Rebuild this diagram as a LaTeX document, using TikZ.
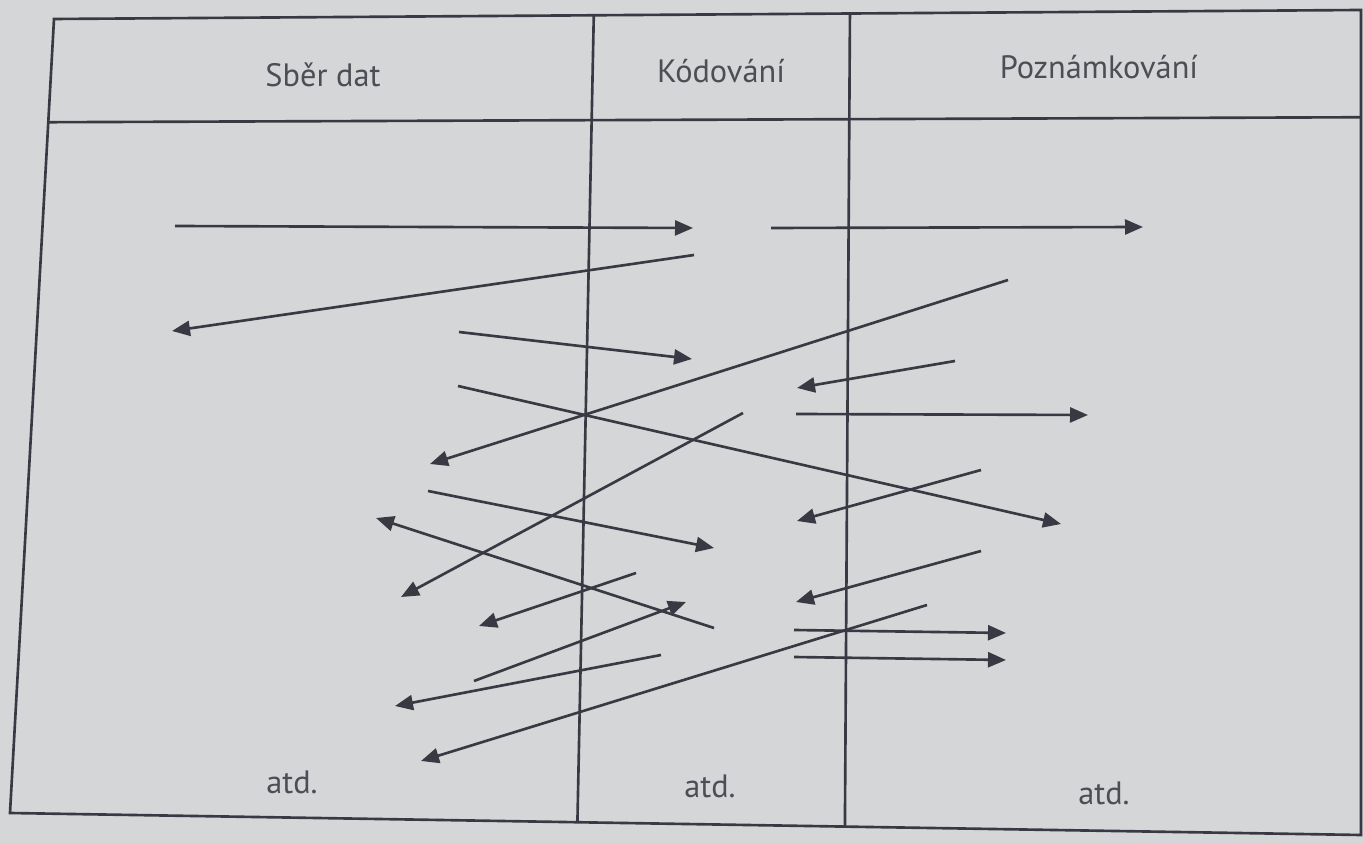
\documentclass[tikz,border=0pt]{standalone}
\usepackage{fontspec}
\setsansfont{PT Sans}
\usetikzlibrary{arrows.meta,calc}
\definecolor{paper}{RGB}{212,214,216}
\definecolor{ink}{RGB}{58,56,66}
\tikzset{
  frame/.style={draw=ink, line width=0.75pt},
  flow/.style={draw=ink, line width=0.75pt, -{Triangle[length=1.8mm,width=1.5mm]}},
  cell/.style={font=\sffamily\fontsize{9.2}{11}\selectfont, text=ink!90, inner sep=0pt, anchor=base}
}
\begin{document}
\begin{tikzpicture}[x=0.1mm, y={(0mm,-0.1mm)}]
\fill[paper] (0,0) rectangle (1364,843);
\useasboundingbox (0,0) rectangle (1364,843);
% table
\coordinate(tl) at (54,19);
\coordinate(tr) at (1361,10);
\coordinate(bl) at (10,813);
\coordinate(br) at (1361,835);
\draw[frame] (tl)--(tr)--(br)--(bl)--cycle;
\draw[frame] ($(tl)!0.13!(bl)$)--($(tr)!0.13!(br)$);
\draw[frame] ($(tl)!0.413!(tr)$)--($(bl)!0.42!(br)$);
\draw[frame] ($(tl)!0.609!(tr)$)--($(bl)!0.618!(br)$);
% headers
\node[cell] (h1) at (323,87) {Sběr dat};
\node[cell] (h2) at (721,83) {Kódování};
\node[cell] (h3) at (1099,79) {Poznámkování};
% arrows
\coordinate(s1) at (175,226);  \coordinate(e1) at (693,228);
\coordinate(s2) at (694,255);  \coordinate(e2) at (172,331);
\coordinate(s3) at (459,332);  \coordinate(e3) at (692,359);
\coordinate(s4) at (458,386);  \coordinate(e4) at (1061,524);
\coordinate(s5) at (1008,280); \coordinate(e5) at (430,464);
\coordinate(s6) at (771,228);  \coordinate(e6) at (1143,227);
\coordinate(s7) at (955,361);  \coordinate(e7) at (797,388);
\coordinate(s8) at (796,414);  \coordinate(e8) at (1088,415);
\coordinate(s9) at (743,413);  \coordinate(e9) at (401,597);
\coordinate(s10) at (428,491); \coordinate(e10) at (714,548);
\coordinate(s11) at (981,470); \coordinate(e11) at (797,521);
\coordinate(s12) at (714,628); \coordinate(e12) at (376,518);
\coordinate(s13) at (636,573); \coordinate(e13) at (479,626);
\coordinate(s14) at (474,681); \coordinate(e14) at (686,602);
\coordinate(s15) at (661,655); \coordinate(e15) at (395,706);
\coordinate(s16) at (981,551); \coordinate(e16) at (796,602);
\coordinate(s17) at (927,605); \coordinate(e17) at (421,761);
\coordinate(s18) at (794,630); \coordinate(e18) at (1006,633);
\coordinate(s19) at (794,657); \coordinate(e19) at (1006,660);
\draw[flow] (s1)--(e1);
\draw[flow] (s2)--(e2);
\draw[flow] (s3)--(e3);
\draw[flow] (s4)--(e4);
\draw[flow] (s5)--(e5);
\draw[flow] (s6)--(e6);
\draw[flow] (s7)--(e7);
\draw[flow] (s8)--(e8);
\draw[flow] (s9)--(e9);
\draw[flow] (s10)--(e10);
\draw[flow] (s11)--(e11);
\draw[flow] (s12)--(e12);
\draw[flow] (s13)--(e13);
\draw[flow] (s14)--(e14);
\draw[flow] (s15)--(e15);
\draw[flow] (s16)--(e16);
\draw[flow] (s17)--(e17);
\draw[flow] (s18)--(e18);
\draw[flow] (s19)--(e19);
% footers
\node[cell] (t1) at (292,793) {atd.};
\node[cell] (t2) at (710,797) {atd.};
\node[cell] (t3) at (1104,805) {atd.};
\end{tikzpicture}
\end{document}
